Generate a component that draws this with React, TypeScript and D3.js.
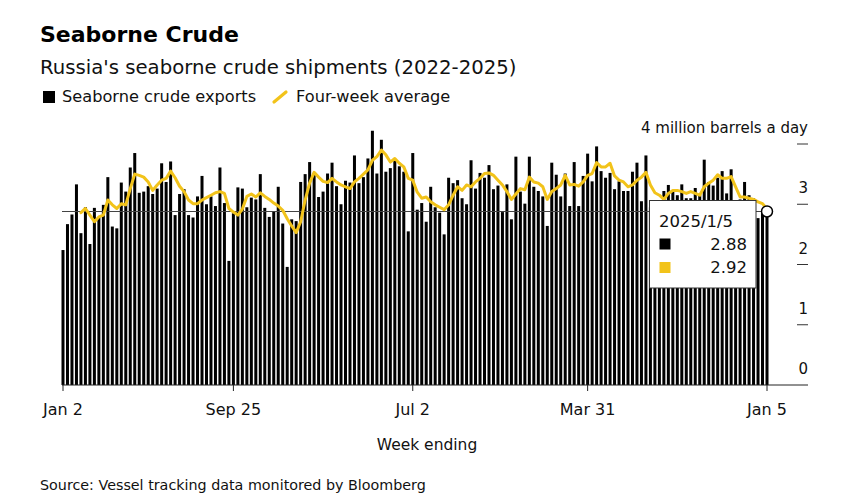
import React from "react";
import * as d3 from "d3";

const exportsMbd: number[] = [
  2.24, 2.67, 2.83, 3.33, 2.52, 2.95, 2.34, 2.94, 2.79, 2.99,
  3.45, 2.63, 2.60, 3.36, 3.21, 3.61, 3.85, 3.19, 3.21, 3.30,
  3.17, 3.26, 3.68, 3.37, 3.71, 2.82, 3.17, 3.25, 2.82, 2.78,
  3.13, 3.47, 3.00, 3.13, 2.97, 3.61, 3.02, 2.06, 2.85, 3.28,
  3.26, 2.95, 3.11, 3.08, 3.50, 2.94, 2.79, 2.88, 3.29, 2.68,
  1.96, 2.75, 2.72, 3.37, 3.50, 3.70, 3.52, 3.12, 3.21, 3.51,
  3.69, 3.30, 3.00, 3.39, 3.36, 3.81, 3.35, 3.45, 3.76, 4.22,
  3.51, 4.07, 3.54, 3.60, 3.73, 3.63, 3.54, 2.55, 3.85, 2.91,
  3.02, 2.71, 3.29, 2.95, 2.86, 2.50, 3.44, 3.35, 3.40, 3.10,
  3.00, 3.73, 3.26, 3.52, 3.44, 3.65, 3.25, 3.31, 2.87, 3.33,
  2.75, 3.79, 3.21, 3.01, 3.79, 3.29, 3.22, 3.13, 2.64, 3.69,
  3.49, 3.13, 3.51, 2.97, 3.70, 2.97, 3.47, 3.84, 3.38, 3.96,
  3.55, 3.44, 3.52, 3.25, 3.38, 3.22, 3.22, 3.54, 3.69, 3.05,
  3.81, 2.95, 2.90, 2.95, 3.22, 3.32, 3.21, 3.15, 3.33, 3.10,
  3.10, 3.27, 3.15, 3.74, 3.37, 3.31, 3.44, 3.55, 3.18, 3.58,
  3.07, 3.08, 3.37, 3.15, 3.10, 2.77, 2.86, 2.88,
];

const fourWeekAvg: (number | null)[] = [
  null, null, null, null, 2.86, 2.93, 2.82, 2.71, 2.79, 2.82,
  3.07, 2.99, 2.93, 3.01, 2.99, 3.26, 3.50, 3.48, 3.45, 3.37,
  3.23, 3.32, 3.40, 3.43, 3.55, 3.44, 3.30, 3.21, 3.07, 3.01,
  3.01, 3.07, 3.11, 3.15, 3.19, 3.21, 3.18, 2.93, 2.87, 2.82,
  2.92, 3.13, 3.17, 3.12, 3.19, 3.13, 3.08, 3.02, 2.97, 2.90,
  2.76, 2.64, 2.53, 2.71, 3.07, 3.35, 3.53, 3.45, 3.38, 3.36,
  3.43, 3.37, 3.32, 3.29, 3.26, 3.37, 3.43, 3.50, 3.57, 3.73,
  3.79, 3.90, 3.82, 3.70, 3.76, 3.68, 3.62, 3.43, 3.40, 3.20,
  3.10, 3.12, 3.04, 2.99, 2.95, 2.91, 2.99, 3.15, 3.29, 3.23,
  3.32, 3.29, 3.37, 3.43, 3.51, 3.52, 3.48, 3.40, 3.32, 3.21,
  3.08, 3.17, 3.26, 3.24, 3.45, 3.37, 3.35, 3.29, 3.08, 3.21,
  3.26, 3.32, 3.48, 3.32, 3.33, 3.30, 3.37, 3.48, 3.51, 3.69,
  3.62, 3.62, 3.68, 3.47, 3.40, 3.37, 3.29, 3.32, 3.40, 3.45,
  3.53, 3.32, 3.19, 3.15, 3.08, 3.18, 3.23, 3.23, 3.21, 3.18,
  3.21, 3.18, 3.15, 3.29, 3.35, 3.40, 3.49, 3.43, 3.43, 3.46,
  3.29, 3.12, 3.12, 3.10, 3.08, 3.04, 3.01, 2.92,
];

const firstWeek = new Date(2022, 0, 2);
const lastWeek = new Date(2025, 0, 5);
const weeks: Date[] = d3.timeWeek.range(firstWeek, d3.timeDay.offset(lastWeek, 1));

const xTickDates: Date[] = [
  new Date(2022, 0, 2),
  new Date(2022, 8, 25),
  new Date(2023, 6, 2),
  new Date(2024, 2, 31),
  new Date(2025, 0, 5),
];
const yTicks: number[] = [0, 1, 2, 3, 4];
const yTickLabels: string[] = ["0", "1", "2", "3", "4 million barrels a day"];

const FONT = "'DejaVu Sans', sans-serif";
const YELLOW = "#f2c31a";

export default function App() {
  const x = d3.scaleTime().domain([firstWeek, lastWeek]).range([63, 767]);
  const y = d3.scaleLinear().domain([0, 4]).range([385, 144]);
  const barW = 3;

  const line = d3
    .line<number | null>()
    .defined((d) => d != null)
    .x((_, i) => x(weeks[i]))
    .y((d) => y(d as number));

  const lastI = weeks.length - 1;
  const lastX = x(weeks[lastI]);
  const lastY = y(exportsMbd[lastI]);
  const fmtTick = d3.timeFormat("%b %-d");
  const fmtTip = d3.timeFormat("%Y/%-m/%-d");

  return (
    <svg
      width={866}
      height={496}
      style={{ position: "absolute", left: 0, top: 0, display: "block", background: "#fff" }}
      fontFamily={FONT}
    >
      <rect width={866} height={496} fill="#fff" />
      <text x={40} y={41.5} fontSize={22} fontWeight={700} fill="#000">
        Seaborne Crude
      </text>
      <text x={40} y={73.5} fontSize={19.7} fill="#111">
        Russia's seaborne crude shipments (2022-2025)
      </text>
      <rect x={43} y={91} width={12} height={12} fill="#000" />
      <text x={62} y={101.7} fontSize={16.2} fill="#111">
        Seaborne crude exports
      </text>
      <line x1={274} y1={102} x2={286} y2={92} stroke={YELLOW} strokeWidth={3.2} strokeLinecap="round" />
      <text x={296} y={101.7} fontSize={16.2} fill="#111">
        Four-week average
      </text>

      {/* bars */}
      <g>
        {exportsMbd.map((v, i) => (
          <rect
            key={i}
            x={x(weeks[i]) - barW / 2}
            y={y(v)}
            width={barW}
            height={y(0) - y(v)}
            fill="#000"
          />
        ))}
      </g>

      {/* y axis ticks and labels on the right */}
      {yTicks.map((t, i) => (
        <g key={t}>
          {t > 0 && <line x1={797} x2={808} y1={y(t)} y2={y(t)} stroke="#333" strokeWidth={1} />}
          <text x={808} y={y(t) - 11} fontSize={15} textAnchor="end" fill="#111">
            {yTickLabels[i]}
          </text>
        </g>
      ))}

      {/* x axis */}
      <line x1={62} x2={808} y1={y(0)} y2={y(0)} stroke="#222" strokeWidth={1} />
      {xTickDates.map((d, i) => (
        <g key={i}>
          <line x1={x(d)} x2={x(d)} y1={y(0)} y2={y(0) + 6} stroke="#222" strokeWidth={1} />
          <text x={x(d)} y={415} fontSize={16} textAnchor="middle" fill="#111">
            {fmtTick(d)}
          </text>
        </g>
      ))}
      <text x={427} y={450} fontSize={15.5} textAnchor="middle" fill="#111">
        Week ending
      </text>

      {/* crosshair */}
      <line x1={62} x2={lastX} y1={lastY} y2={lastY} stroke="#444" strokeWidth={1.2} />

      {/* four-week average line */}
      <path
        d={line(fourWeekAvg) || ""}
        fill="none"
        stroke={YELLOW}
        strokeWidth={3}
        strokeLinejoin="round"
        strokeLinecap="round"
      />

      {/* tooltip */}
      <rect x={649.5} y={200.5} width={106.5} height={87.5} fill="#fff" stroke="#333" strokeWidth={1} />
      <text x={659} y={226.5} fontSize={16.5} fill="#111">
        {fmtTip(weeks[lastI])}
      </text>
      <rect x={659.5} y={238.5} width={11} height={11} fill="#000" />
      <text x={747} y={249.5} fontSize={16.5} textAnchor="end" fill="#111">
        {exportsMbd[lastI].toFixed(2)}
      </text>
      <rect x={659.5} y={262} width={11} height={11} fill={YELLOW} />
      <text x={747} y={272.5} fontSize={16.5} textAnchor="end" fill="#111">
        {(fourWeekAvg[lastI] as number).toFixed(2)}
      </text>
      <circle cx={lastX} cy={lastY} r={5.5} fill="#fff" stroke="#000" strokeWidth={1.5} />

      <text x={40} y={490} fontSize={14.3} fill="#111">
        Source: Vessel tracking data monitored by Bloomberg
      </text>
    </svg>
  );
}
